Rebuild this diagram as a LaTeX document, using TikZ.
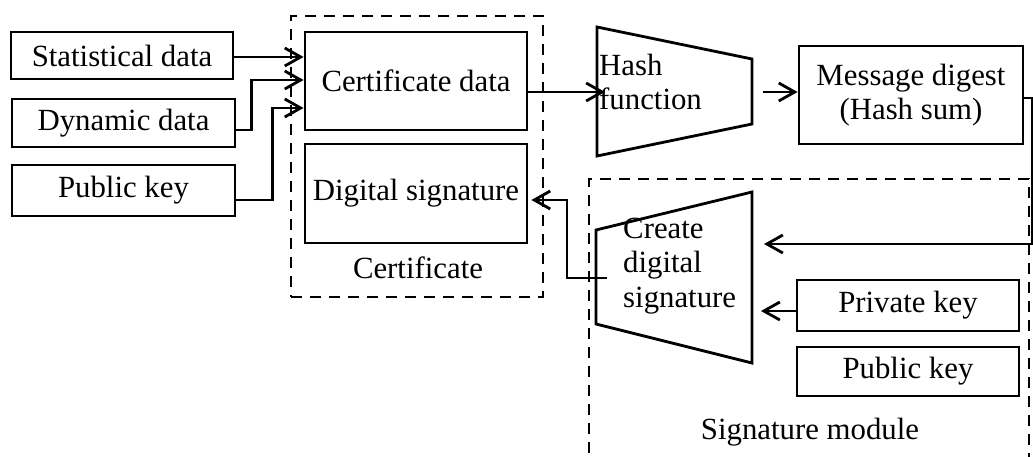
\documentclass[tikz,border=0pt]{standalone}
\usepackage{fontspec}
\setmainfont{Liberation Serif}
\usetikzlibrary{arrows.meta,calc}
\begin{document}
\begin{tikzpicture}[x=1pt,y=-1pt,
  txt/.style={font=\fontsize{30.8}{34.5}\selectfont},
  box/.style={draw,line width=2.8pt,inner sep=0pt,txt},
  lbl/.style={inner sep=0pt,txt},
  ln/.style={line width=2.8pt},
  arr/.style={line width=2.8pt,-{Straight Barb[length=16pt,width=18pt,line width=2.8pt]}},
  grp/.style={draw,line width=2.8pt,dash pattern=on 11pt off 8pt,inner sep=0pt}]
\useasboundingbox (0,0) rectangle (1033,457);
\clip (0,0) rectangle (1033,457);
% groups
\node[grp,minimum width=252pt,minimum height=281pt] (certgrp) at (417,156.5) {};
\node[grp,minimum width=440pt,minimum height=301pt] (siggrp) at (809,329.5) {};
% boxes
\node[box,minimum width=222pt,minimum height=47pt] (stat) at (122,55.5) {Statistical data};
\node[box,minimum width=223pt,minimum height=48pt] (dyn) at (123.5,123) {Dynamic data};
\node[box,minimum width=223pt,minimum height=51pt] (pk1) at (123.5,190.5) {Public key};
\node[box,minimum width=222pt,minimum height=98pt] (cd) at (416,81) {Certificate data};
\node[box,minimum width=222pt,minimum height=99pt] (ds) at (416,193.5) {Digital signature};
\node[box,minimum width=224pt,minimum height=98pt,align=center] (md) at (911,95) {Message digest\\(Hash sum)};
\node[box,minimum width=222pt,minimum height=51pt] (priv) at (908,305.5) {Private key};
\node[box,minimum width=222pt,minimum height=49pt] (pub) at (908,371.5) {Public key};
\node[lbl] (certlbl) at (418,268) {Certificate};
\node[lbl] (siglbl) at (810,432) {Signature module};
% trapezoids
\draw[ln] (597,27) -- (752,59) -- (752,124) -- (597,156) -- cycle;
\coordinate (hashL) at (597,91.5);
\coordinate (hashR) at (752,91.5);
\node[lbl,align=left,anchor=west] (hashtxt) at (599,82) {Hash\\function};
\draw[ln] (596,230) -- (752,192) -- (752,363) -- (596,324) -- cycle;
\coordinate (sigR) at (752,277.5);
\node[lbl,align=left,anchor=west] (sigtxt) at (623,266) {Create\\digital\\signature};
\coordinate (fb) at (1032,244);
\coordinate (sigIn1) at (764,244);
\coordinate (sigIn2) at (761,311);
\coordinate (sigOut) at (607,278);
% connectors
\draw[arr] ($(stat.east)+(0,1.5)$) -- ($(cd.west)+(0,-24)$);
\draw[arr] ($(dyn.east)+(0,7)$) -- ++(15,0) |- ($(cd.west)+(0,-1)$);
\draw[arr] ($(pk1.east)+(0,9.5)$) -- ++(36,0) |- ($(cd.west)+(0,27)$);
\draw[arr] ($(cd.east)+(0,11)$) -- ($(hashL)+(8,0.5)$);
\draw[arr] ($(hashR)+(11,0.5)$) -- ($(md.west)+(0,-3)$);
\draw[arr] ($(md.east)+(0,3)$) -| (fb) -- (sigIn1);
\draw[arr] ($(priv.west)+(0,5.5)$) -- (sigIn2);
\draw[arr] (sigOut) -- ++(-40,0) |- ($(ds.east)+(3,6.5)$);
\end{tikzpicture}
\end{document}
